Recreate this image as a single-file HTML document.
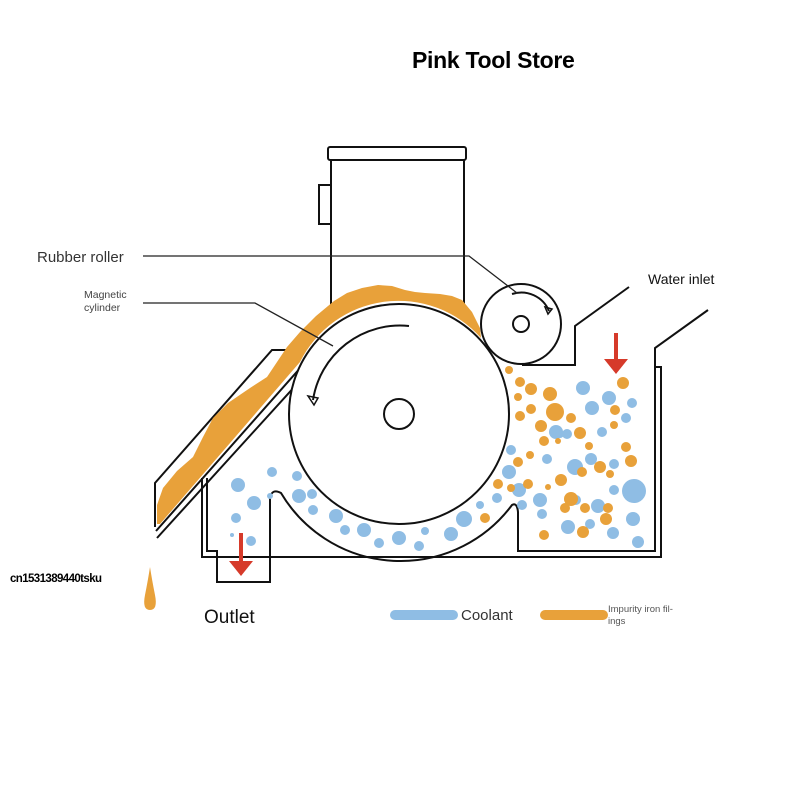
<!DOCTYPE html>
<html><head><meta charset="utf-8"><style>
html,body{margin:0;padding:0;background:#fff;}
svg{display:block;}
text{font-family:"Liberation Sans",sans-serif;}
</style></head><body>
<svg width="800" height="800" viewBox="0 0 800 800" xmlns="http://www.w3.org/2000/svg">
<rect width="800" height="800" fill="#fff"/>
<text x="412" y="68" font-size="23" font-weight="bold" fill="#000" letter-spacing="-0.3">Pink Tool Store</text>

<g fill="none" stroke="#111" stroke-width="2">
<rect x="328" y="147" width="138" height="13" rx="2" fill="#fff"/>
<path d="M331 160 V310 M464 160 V310"/>
<rect x="319" y="185" width="12" height="39" fill="#fff"/>
<path d="M155 527 L155 483 L272 350 L287 350"/>
<path d="M302 366 L156 531 M307 373 L157 538"/>
<path d="M708 310 L655 348 L655 367 L661 367 L661 557 L202 557 L202 478"/>
<path d="M629 287 L575 326 L575 365 L522 365"/>
<path d="M207 478 L207 551 L217 551 L217 582 L270 582 L270 498 Q272 488 281 493 A139 139 0 0 0 512 505 Q517 502 518 512 L518 551 L655 551 L655 367"/>
</g>

<path d="M157 524 L157 505 L163 488 L177 471 L193 457 L203 437 L213 418 L228 403 L250 388 L267 377 L287 347 L300 332 L316 316 L334 301 L347 293 L362 288 L378 285 L392 286 L405 290 L415 292 L425 293 L440 294 L452 296 L462 300 L472 312 L480 328 L481 338 A110 110 0 0 0 300 362 L160 524 Z" fill="#e8a13a"/>

<g fill="none" stroke="#111" stroke-width="2">
<circle cx="399" cy="414" r="110" fill="#fff"/>
<circle cx="399" cy="414" r="15"/>
<circle cx="521" cy="324" r="40" fill="#fff"/>
<circle cx="521" cy="324" r="8"/>
<path d="M409 326 A88 88 0 0 0 313 400"/>
<path d="M308 396 L318 398 L314 405 Z" stroke-width="1.5"/>
<path d="M512 294 A30 30 0 0 1 549 311"/>
<path d="M545 307 L552 309 L548 314 Z" stroke-width="1.5"/>
</g>
<g fill="none" stroke="#222" stroke-width="1.3">
<path d="M143 256 L469 256 L517 293"/>
<path d="M143 303 L255 303 L333 346"/>
</g>

<g fill="#8fbde4">
<circle cx="583" cy="388" r="7"/><circle cx="609" cy="398" r="7"/><circle cx="592" cy="408" r="7"/><circle cx="632" cy="403" r="5"/><circle cx="626" cy="418" r="5"/><circle cx="556" cy="432" r="7"/><circle cx="567" cy="434" r="5"/><circle cx="602" cy="432" r="5"/><circle cx="509" cy="472" r="7"/><circle cx="519" cy="490" r="7"/><circle cx="540" cy="500" r="7"/><circle cx="575" cy="467" r="8"/><circle cx="591" cy="459" r="6"/><circle cx="614" cy="464" r="5"/><circle cx="614" cy="490" r="5"/><circle cx="634" cy="491" r="12"/><circle cx="633" cy="519" r="7"/><circle cx="638" cy="542" r="6"/><circle cx="613" cy="533" r="6"/><circle cx="568" cy="527" r="7"/><circle cx="590" cy="524" r="5"/><circle cx="598" cy="506" r="7"/><circle cx="576" cy="500" r="5"/><circle cx="547" cy="459" r="5"/><circle cx="542" cy="514" r="5"/><circle cx="522" cy="505" r="5"/><circle cx="511" cy="450" r="5"/><circle cx="560" cy="434" r="4"/><circle cx="497" cy="498" r="5"/><circle cx="480" cy="505" r="4"/>
<circle cx="238" cy="485" r="7"/><circle cx="254" cy="503" r="7"/><circle cx="236" cy="518" r="5"/><circle cx="272" cy="472" r="5"/><circle cx="297" cy="476" r="5"/><circle cx="299" cy="496" r="7"/><circle cx="312" cy="494" r="5"/><circle cx="313" cy="510" r="5"/><circle cx="336" cy="516" r="7"/><circle cx="345" cy="530" r="5"/><circle cx="364" cy="530" r="7"/><circle cx="379" cy="543" r="5"/><circle cx="399" cy="538" r="7"/><circle cx="419" cy="546" r="5"/><circle cx="425" cy="531" r="4"/><circle cx="451" cy="534" r="7"/><circle cx="464" cy="519" r="8"/><circle cx="251" cy="541" r="5"/><circle cx="270" cy="496" r="3"/><circle cx="232" cy="535" r="2"/>
</g>
<g fill="#e8a13a">
<circle cx="509" cy="370" r="4"/><circle cx="520" cy="382" r="5"/><circle cx="531" cy="389" r="6"/><circle cx="550" cy="394" r="7"/><circle cx="518" cy="397" r="4"/><circle cx="531" cy="409" r="5"/><circle cx="555" cy="412" r="9"/><circle cx="571" cy="418" r="5"/><circle cx="580" cy="433" r="6"/><circle cx="614" cy="425" r="4"/><circle cx="615" cy="410" r="5"/><circle cx="623" cy="383" r="6"/><circle cx="541" cy="426" r="6"/><circle cx="544" cy="441" r="5"/><circle cx="520" cy="416" r="5"/><circle cx="558" cy="441" r="3"/><circle cx="589" cy="446" r="4"/><circle cx="582" cy="472" r="5"/><circle cx="600" cy="467" r="6"/><circle cx="610" cy="474" r="4"/><circle cx="626" cy="447" r="5"/><circle cx="631" cy="461" r="6"/><circle cx="498" cy="484" r="5"/><circle cx="511" cy="488" r="4"/><circle cx="528" cy="484" r="5"/><circle cx="548" cy="487" r="3"/><circle cx="561" cy="480" r="6"/><circle cx="571" cy="499" r="7"/><circle cx="565" cy="508" r="5"/><circle cx="585" cy="508" r="5"/><circle cx="608" cy="508" r="5"/><circle cx="606" cy="519" r="6"/><circle cx="583" cy="532" r="6"/><circle cx="544" cy="535" r="5"/><circle cx="485" cy="518" r="5"/><circle cx="518" cy="462" r="5"/><circle cx="530" cy="455" r="4"/>
</g>

<g fill="#d63a2a">
<rect x="614" y="333" width="4" height="28"/><path d="M604 359 L628 359 L616 374 Z"/>
<rect x="239" y="533" width="4" height="30"/><path d="M229 561 L253 561 L241 576 Z"/>
</g>
<path d="M150 567 Q152 580 155 595 Q158 610 150 610 Q142 610 145 595 Q148 580 150 567 Z" fill="#e8a13a"/>

<text x="37" y="262" font-size="15" fill="#333">Rubber roller</text>
<text x="84" y="298" font-size="10.5" fill="#444">Magnetic</text>
<text x="84" y="311" font-size="10.5" fill="#444">cylinder</text>
<text x="648" y="284" font-size="14" fill="#111">Water inlet</text>
<text x="10" y="582" font-size="11.5" font-weight="bold" fill="#000" letter-spacing="-0.6">cn1531389440tsku</text>
<text x="204" y="623" font-size="19" fill="#111">Outlet</text>
<line x1="395" y1="615" x2="453" y2="615" stroke="#8fbde4" stroke-width="10" stroke-linecap="round"/>
<text x="461" y="620" font-size="15" fill="#333">Coolant</text>
<line x1="545" y1="615" x2="603" y2="615" stroke="#e8a13a" stroke-width="10" stroke-linecap="round"/>
<text x="608" y="612" font-size="9.5" fill="#555">Impurity iron fil-</text>
<text x="608" y="624" font-size="9.5" fill="#555">ings</text>
</svg>
</body></html>
